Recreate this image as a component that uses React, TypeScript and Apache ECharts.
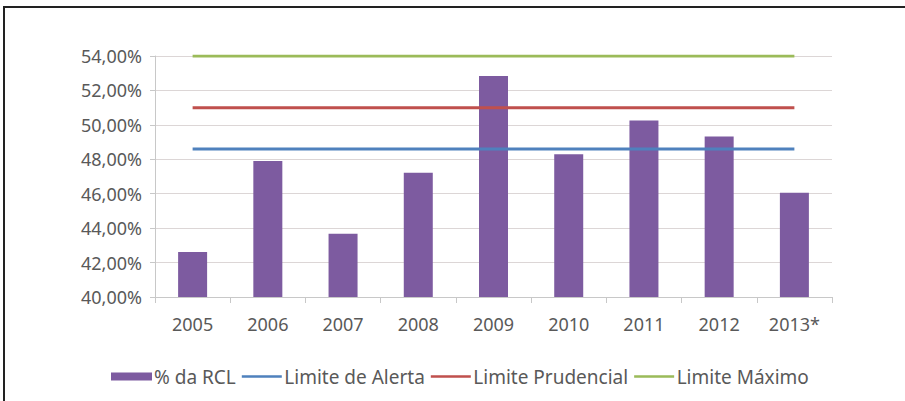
import React, { useEffect, useRef } from "react";
import * as echarts from "echarts";

const categories = ["2005", "2006", "2007", "2008", "2009", "2010", "2011", "2012", "2013*"];
const rclValues = [42.62, 47.9, 43.67, 47.22, 52.84, 48.29, 50.25, 49.33, 46.05];
const alertaValues = [48.6, 48.6, 48.6, 48.6, 48.6, 48.6, 48.6, 48.6, 48.6];
const prudencialValues = [51.0, 51.0, 51.0, 51.0, 51.0, 51.0, 51.0, 51.0, 51.0];
const maximoValues = [54.0, 54.0, 54.0, 54.0, 54.0, 54.0, 54.0, 54.0, 54.0];
const seriesNames = ["% da RCL", "Limite de Alerta", "Limite Prudencial", "Limite Máximo"];

const FONT = "'Noto Sans', sans-serif";
const TEXT = "#595959";
const LINE_ICON = "path://M0,0L0.01,0M0,2.8H40V5.2H0ZM0,8L0.01,8";

export default function App() {
  const ref = useRef<HTMLDivElement>(null);
  useEffect(() => {
    if (!ref.current) return;
    const chart = echarts.init(ref.current, null, { renderer: "svg" });
    const lineSeries = (name: string, data: number[], color: string) => ({
      name,
      type: "line",
      data,
      symbol: "none",
      z: 3,
      lineStyle: { color, width: 3 },
      itemStyle: { color },
    });
    chart.setOption({
      animation: false,
      backgroundColor: "#ffffff",
      textStyle: { fontFamily: FONT },
      graphic: [
        { type: "rect", left: 3, top: 6, shape: { width: 902, height: 2 }, style: { fill: "#222" } },
        { type: "rect", left: 3, top: 6, shape: { width: 2, height: 395 }, style: { fill: "#222" } },
      ],
      grid: { left: 155, right: 73, top: 56, bottom: 104 },
      legend: {
        left: 106,
        top: 362,
        itemGap: 6,
        itemWidth: 41,
        itemHeight: 8,
        textStyle: { color: TEXT, fontSize: 19, fontFamily: FONT, padding: [0, 0, 0, -3] },
        data: [
          { name: seriesNames[0], icon: "rect" },
          { name: seriesNames[1], icon: LINE_ICON },
          { name: seriesNames[2], icon: LINE_ICON },
          { name: seriesNames[3], icon: LINE_ICON },
        ],
      },
      xAxis: {
        type: "category",
        data: categories,
        axisLine: { lineStyle: { color: "#c8c8c8" } },
        axisTick: { show: true, length: 6, lineStyle: { color: "#c8c8c8" } },
        axisLabel: { color: TEXT, fontSize: 18, fontFamily: FONT, margin: 18 },
      },
      yAxis: {
        type: "value",
        min: 40,
        max: 54,
        interval: 2,
        axisLine: { show: true, lineStyle: { color: "#c8c8c8" } },
        axisTick: { show: true, length: 5, lineStyle: { color: "#c8c8c8" } },
        splitLine: { lineStyle: { color: "#dcd6d6" } },
        axisLabel: {
          color: TEXT,
          fontSize: 18,
          fontFamily: FONT,
          margin: 13,
          formatter: (v: number) => v.toFixed(2).replace(".", ",") + "%",
        },
      },
      series: [
        {
          name: seriesNames[0],
          type: "bar",
          data: rclValues,
          barWidth: 29,
          z: 2,
          itemStyle: { color: "#7D5BA0" },
        },
        lineSeries(seriesNames[1], alertaValues, "#4F81BD"),
        lineSeries(seriesNames[2], prudencialValues, "#C0504D"),
        lineSeries(seriesNames[3], maximoValues, "#9BBB59"),
      ],
    });
    return () => chart.dispose();
  }, []);
  return (
    <div
      ref={ref}
      style={{ position: "absolute", left: 0, top: 0, width: 905, height: 401 }}
    />
  );
}
